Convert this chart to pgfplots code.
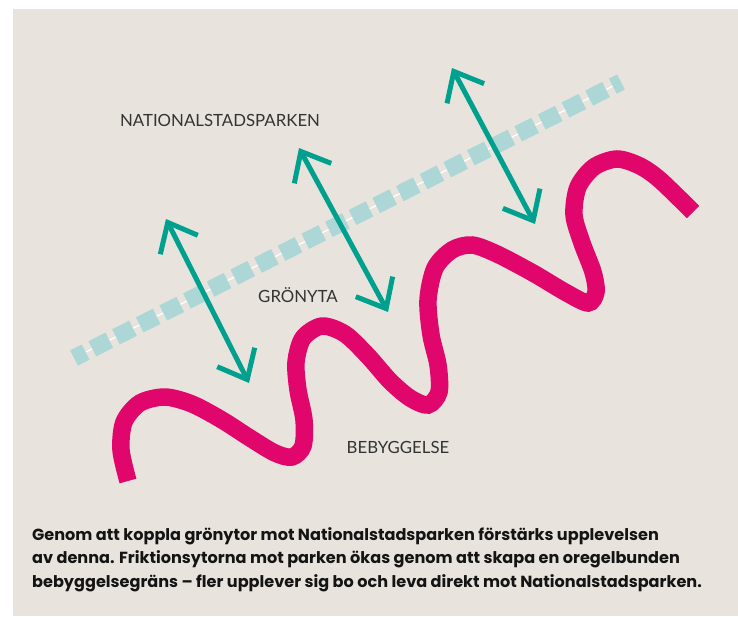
\documentclass[border=0pt]{standalone}
\usepackage{fontspec}
\setmainfont{Lato}
\newfontfamily\capfont{Poppins}
\usepackage{xcolor}
\usepackage{tikz}
\usetikzlibrary{arrows.meta}
\usepackage{pgfplots}
\pgfplotsset{compat=1.18}

\definecolor{bg}{HTML}{E8E4DD}
\definecolor{wave}{HTML}{E0066B}
\definecolor{arrowc}{HTML}{00A08F}
\definecolor{dashc}{HTML}{ADD7D6}
\definecolor{labelc}{HTML}{333333}

\begin{document}
\begin{tikzpicture}[>={Straight Barb[length=25pt, width=42pt]}]
\begin{axis}[
  scale only axis,
  width=738pt, height=616pt,
  xmin=0, xmax=738, ymin=0, ymax=616,
  y dir=reverse,
  hide axis,
  clip=false,
]
% page and panel
\addplot[fill=white, draw=none] coordinates {(0,0) (738,0) (738,616) (0,616)} -- cycle;
\addplot[fill=bg, draw=none] coordinates {(13,9) (738,9) (738,616) (13,616)} -- cycle;

% park edge: thin white line under square dashes
\addplot[white, line width=1.2pt] coordinates {(74,358) (621,82)};
\addplot[dashc, line width=17pt, line cap=butt,
  dash pattern=on 19pt off 7.5pt, dash phase=6pt] coordinates {(74,358) (621,82)};

% built edge
\addplot[wave, line width=17.5pt, line cap=butt, smooth, tension=0.5] coordinates {
  (128,481) (121,450) (124,422) (140,403) (165,397) (192,404) (222,420)
  (250,438) (275,453) (292,457) (303,446) (304,420) (298,390) (296,362)
  (303,338) (322,326) (345,334) (368,356) (390,381) (410,398) (428,405)
  (439,392) (438,365) (431,335) (428,300) (435,268) (452,250) (472,245)
  (497,254) (533,273) (565,292) (588,303) (596,292) (593,272) (582,243)
  (574,215) (578,187) (594,167) (617,159) (640,166) (660,180) (693,212)
};

% friction arrows
\addplot[arrowc, line width=5pt, <->] coordinates {(166,219) (249,383)};
\addplot[arrowc, line width=5pt, <->] coordinates {(299,148) (388,312)};
\addplot[arrowc, line width=5pt, <->] coordinates {(452,68) (535,224)};

% labels
\node[labelc, font=\fontsize{16.8}{18}\selectfont, anchor=center] at (axis cs:220,120) {NATIONALSTADSPARKEN};
\node[labelc, font=\fontsize{16.8}{18}\selectfont, anchor=center] at (axis cs:298,295) {GRÖNYTA};
\node[labelc, font=\fontsize{16.8}{18}\selectfont, anchor=center] at (axis cs:398,447) {BEBYGGELSE};

% caption
\node[anchor=north west, align=left, text=black!92, inner sep=0pt,
  font=\capfont\bfseries\fontsize{16.1}{23.8}\selectfont] at (axis cs:32,527)
  {Genom att koppla grönytor mot Nationalstadsparken förstärks upplevelsen\\
   av denna. Friktionsytorna mot parken ökas genom att skapa en oregelbunden\\
   bebyggelsegräns – fler upplever sig bo och leva direkt mot Nationalstadsparken.};
\end{axis}
\end{tikzpicture}
\end{document}
